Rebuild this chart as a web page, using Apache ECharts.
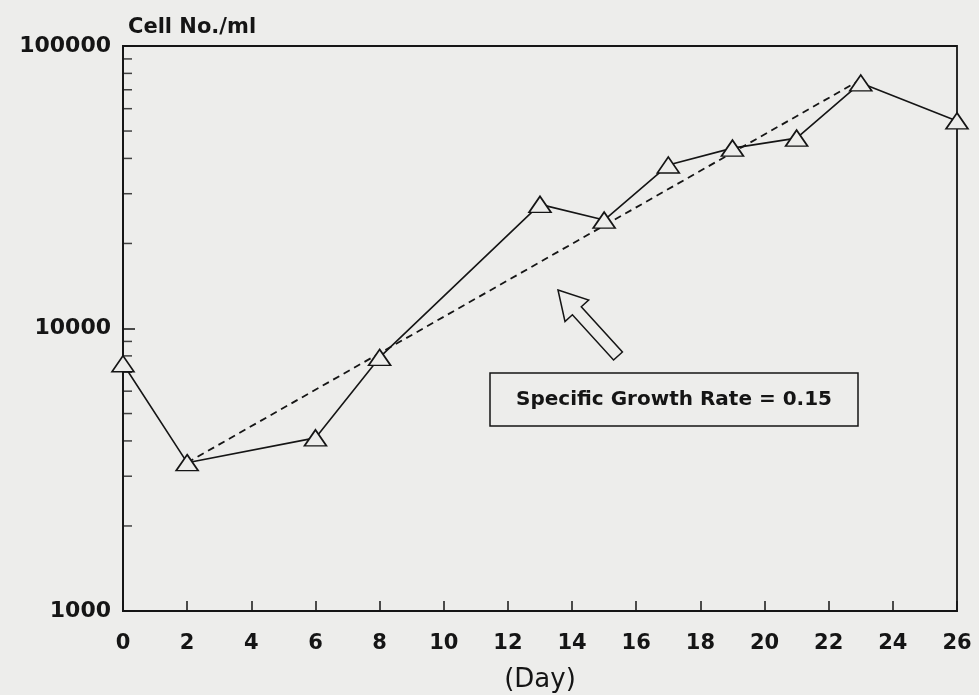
<!DOCTYPE html>
<html>
<head>
<meta charset="utf-8">
<script src="https://cdn.jsdelivr.net/npm/echarts@6/dist/echarts.min.js"></script>
<style>
  html, body { margin: 0; padding: 0; background: #ededeb; }
  #chart { width: 979px; height: 695px; }
</style>
</head>
<body>
<div id="chart"></div>
<script>
// measured cell counts
var days = [0, 2, 6, 8, 13, 15, 17, 19, 21, 23, 26];
var cells = [7500, 3350, 4100, 7900, 27500, 24200, 37900, 43500, 47200, 74000, 54300];
// dashed growth line (rate 0.15)
var fitDays = [2, 23];
var fitCells = [3350, 76000];
// log axis minor ticks
var minorTickValues = [2000, 3000, 4000, 5000, 6000, 7000, 8000, 9000,
  20000, 30000, 40000, 50000, 60000, 70000, 80000, 90000];
var xTicks = [0, 26, 2];
var yLimits = [1000, 100000];
var noteText = 'Specific Growth Rate = 0.15';

var ink = '#151515';
var paper = '#ededeb';
var font = 'DejaVu Sans';

function arrowPoints(tip, tail, headLen, headHalf, shaftHalf) {
  var dx = tail[0] - tip[0], dy = tail[1] - tip[1];
  var len = Math.sqrt(dx * dx + dy * dy);
  var ux = dx / len, uy = dy / len;
  var px = -uy, py = ux;
  var bx = tip[0] + ux * headLen, by = tip[1] + uy * headLen;
  return [
    tip,
    [bx - px * headHalf, by - py * headHalf],
    [bx - px * shaftHalf, by - py * shaftHalf],
    [tail[0] - px * shaftHalf, tail[1] - py * shaftHalf],
    [tail[0] + px * shaftHalf, tail[1] + py * shaftHalf],
    [bx + px * shaftHalf, by + py * shaftHalf],
    [bx + px * headHalf, by + py * headHalf]
  ];
}

var myChart = echarts.init(document.getElementById('chart'));
myChart.setOption({
  backgroundColor: paper,
  animation: false,
  title: {
    text: 'Cell No./ml',
    left: 123,
    top: 12,
    textStyle: { fontFamily: font, fontSize: 21, fontWeight: 'bold', color: ink }
  },
  grid: {
    left: 123, right: 22, top: 46, bottom: 84,
    outerBoundsMode: 'none',
    containLabel: false,
    show: true,
    borderColor: ink,
    borderWidth: 1.8,
    backgroundColor: 'transparent'
  },
  xAxis: {
    type: 'value',
    min: xTicks[0],
    max: xTicks[1],
    interval: xTicks[2],
    name: '(Day)',
    nameLocation: 'middle',
    nameGap: 56,
    nameTextStyle: { fontFamily: font, fontSize: 26, color: ink },
    axisLine: { lineStyle: { color: ink, width: 1.8 } },
    axisTick: { inside: true, length: 10, lineStyle: { color: ink, width: 1.5 } },
    axisLabel: { margin: 22, fontFamily: font, fontSize: 21, fontWeight: 'bold', color: ink },
    splitLine: { show: false }
  },
  yAxis: {
    type: 'log',
    logBase: 10,
    min: yLimits[0],
    max: yLimits[1],
    axisLine: { show: true, lineStyle: { color: ink, width: 1.8 } },
    axisTick: { inside: true, length: 12, lineStyle: { color: ink, width: 1.5 } },
    axisLabel: {
      margin: 12, fontFamily: font, fontSize: 22, fontWeight: 'bold', color: ink,
      formatter: function (v) { return String(Math.round(v)); }
    },
    splitLine: { show: false }
  },
  series: [
    {
      type: 'scatter',
      silent: true,
      clip: false,
      symbol: 'rect',
      symbolSize: [9, 1.5],
      symbolOffset: [4.5, 0],
      itemStyle: { color: ink },
      data: minorTickValues.map(function (v) { return [xTicks[0], v]; }),
      z: 1
    },
    {
      type: 'line',
      silent: true,
      symbol: 'none',
      lineStyle: { color: ink, width: 1.8, type: [7, 5] },
      data: fitDays.map(function (d, i) { return [d, fitCells[i]]; }),
      z: 2
    },
    {
      type: 'line',
      silent: true,
      clip: false,
      symbol: 'triangle',
      symbolSize: [22, 16],
      lineStyle: { color: ink, width: 1.6 },
      itemStyle: { color: paper, borderColor: ink, borderWidth: 1.6 },
      data: days.map(function (d, i) { return [d, cells[i]]; }),
      z: 3
    }
  ],
  graphic: [
    {
      type: 'polygon',
      shape: { points: arrowPoints([558, 290], [618, 356], 28, 16, 6) },
      style: { fill: paper, stroke: ink, lineWidth: 1.5 },
      z: 10
    },
    {
      type: 'rect',
      shape: { x: 490, y: 373, width: 368, height: 53 },
      style: { fill: paper, stroke: ink, lineWidth: 1.5 },
      z: 10
    },
    {
      type: 'text',
      x: 674,
      y: 400,
      style: {
        text: noteText,
        fontFamily: font,
        fontSize: 20,
        fontWeight: 'bold',
        fill: ink,
        align: 'center',
        verticalAlign: 'middle'
      },
      z: 11
    }
  ]
});
</script>
</body>
</html>
